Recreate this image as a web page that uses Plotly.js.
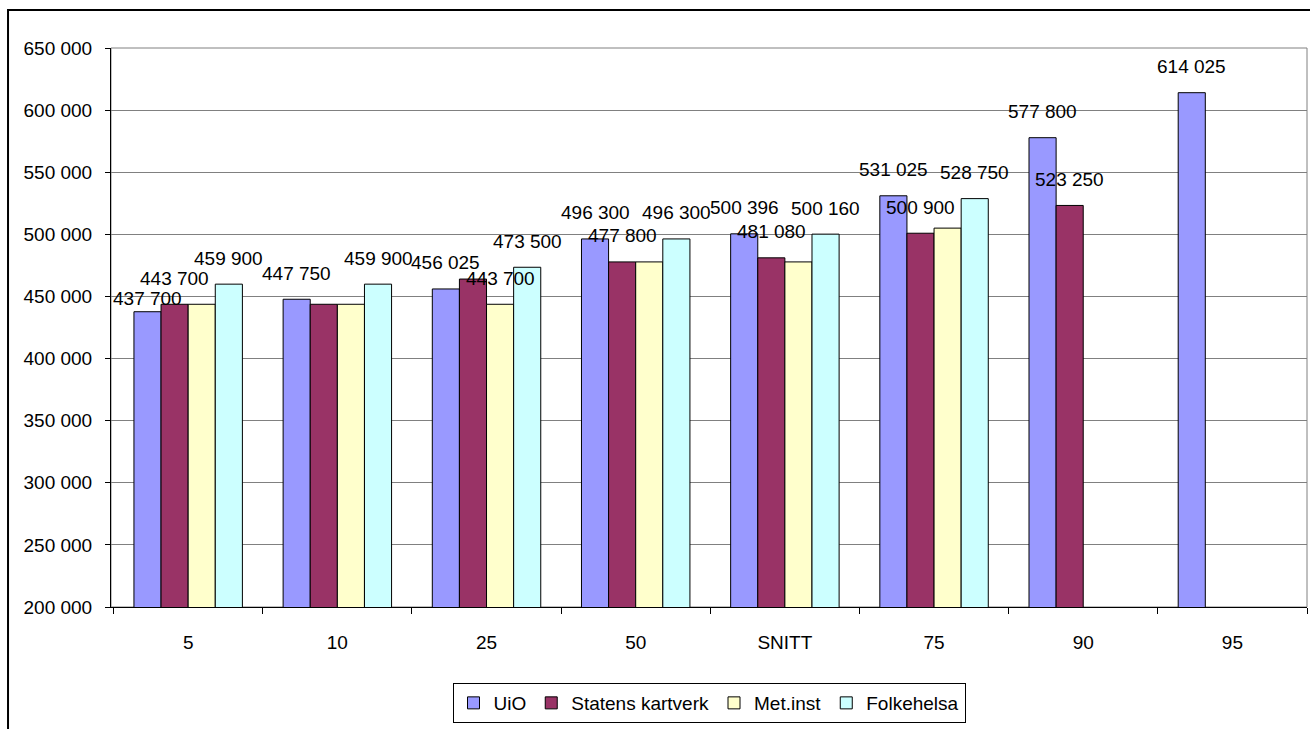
<!DOCTYPE html>
<html>
<head>
<meta charset="utf-8">
<script src="https://cdn.plot.ly/plotly-3.0.1.min.js"></script>
<style>html,body{margin:0;padding:0;background:#fff;}#chart{width:1310px;height:729px;}</style>
</head>
<body>
<div id="chart"></div>
<script>
const categories = ['5', '10', '25', '50', 'SNITT', '75', '90', '95'];
const seriesNames = ['UiO', 'Statens kartverk', 'Met.inst', 'Folkehelsa'];
const uio        = [437700, 447750, 456025, 496300, 500396, 531025, 577800, 614025];
const kartverk   = [443700, 443700, 464000, 477800, 481080, 500900, 523250, null];
const metinst    = [443700, 443700, 443700, 477800, 477800, 505000, null, null];
const folkehelsa = [459900, 459900, 473500, 496300, 500160, 528750, null, null];
// which data labels are shown in the reference
const uioLabels        = [true, true, true, true, true, true, true, true];
const kartverkLabels   = [true, false, false, true, true, true, true, false];
const metinstLabels    = [false, false, true, false, false, false, false, false];
const folkehelsaLabels = [true, true, true, true, true, true, false, false];

const seriesValues = [uio, kartverk, metinst, folkehelsa];
const seriesLabels = [uioLabels, kartverkLabels, metinstLabels, folkehelsaLabels];
const colors = ['#9999FF', '#993366', '#FFFFCC', '#CCFFFF'];

const FONT = 'Liberation Sans Narrow, Arial Narrow, Liberation Sans, Arial, sans-serif';
const FS = 19;
const bargap = 0.273;
const LABEL_SHIFT = 26;
// label that sits lower in the reference (series index - category index)
const labelShiftOverride = {'0-0': 13};

function fmt(v) {
  return String(Math.round(v)).replace(/\B(?=(\d{3})+(?!\d))/g, ' ');
}

const traces = seriesNames.map((name, i) => ({
  type: 'bar',
  name: name,
  x: categories,
  y: seriesValues[i],
  marker: {color: colors[i], line: {color: '#000', width: 1}},
  hoverinfo: 'skip'
}));

const annotations = [];
const bw = (1 - bargap) / seriesNames.length;
seriesValues.forEach((vals, i) => {
  vals.forEach((v, j) => {
    if (v === null || !seriesLabels[i][j]) return;
    const key = i + '-' + j;
    annotations.push({
      xref: 'x', yref: 'y',
      x: j + (i - (seriesNames.length - 1) / 2) * bw,
      y: v,
      text: fmt(v),
      showarrow: false,
      xanchor: 'center', yanchor: 'middle',
      yshift: (key in labelShiftOverride) ? labelShiftOverride[key] : LABEL_SHIFT,
      font: {family: FONT, size: FS, color: '#000'}
    });
  });
});

const layout = {
  width: 1310, height: 729,
  margin: {l: 111, r: 3, t: 48, b: 122, pad: 0},
  paper_bgcolor: '#fff', plot_bgcolor: '#fff',
  separators: ', ',
  font: {family: FONT, size: FS, color: '#000'},
  barmode: 'group',
  bargap: bargap,
  bargroupgap: 0,
  showlegend: true,
  legend: {
    orientation: 'h',
    x: 0.5, xanchor: 'center',
    y: -0.136, yanchor: 'top',
    bordercolor: '#000', borderwidth: 1, bgcolor: '#fff',
    font: {family: FONT, size: FS, color: '#000'},
    itemwidth: 30,
    tracegroupgap: 0
  },
  xaxis: {
    type: 'category',
    showline: true, linecolor: '#000', linewidth: 1,
    ticks: 'outside', ticklen: 6, tickcolor: '#000',
    tickson: 'boundaries',
    showgrid: false,
    ticklabelstandoff: 18,
    tickfont: {family: FONT, size: FS, color: '#000'},
    zeroline: false, fixedrange: true
  },
  yaxis: {
    range: [200000, 650000],
    dtick: 50000, tick0: 0,
    tickformat: ',d',
    showline: true, linecolor: '#000', linewidth: 1,
    ticks: 'outside', ticklen: 5, tickcolor: '#000',
    ticklabelstandoff: 9,
    gridcolor: '#808080', gridwidth: 1,
    zeroline: false,
    tickfont: {family: FONT, size: FS, color: '#000'},
    fixedrange: true
  },
  annotations: annotations,
  shapes: [
    {type: 'rect', xref: 'paper', yref: 'paper', x0: 0, x1: 1, y0: 0, y1: 1,
     line: {color: '#808080', width: 1}, layer: 'below'},
    {type: 'rect', xref: 'paper', yref: 'paper', x0: -0.0861, x1: 1.05, y0: -0.4, y1: 1.068,
     line: {color: '#000', width: 2}, layer: 'above'}
  ],
  hovermode: false
};

Plotly.newPlot('chart', traces, layout, {displayModeBar: false, staticPlot: true});
</script>
</body>
</html>
